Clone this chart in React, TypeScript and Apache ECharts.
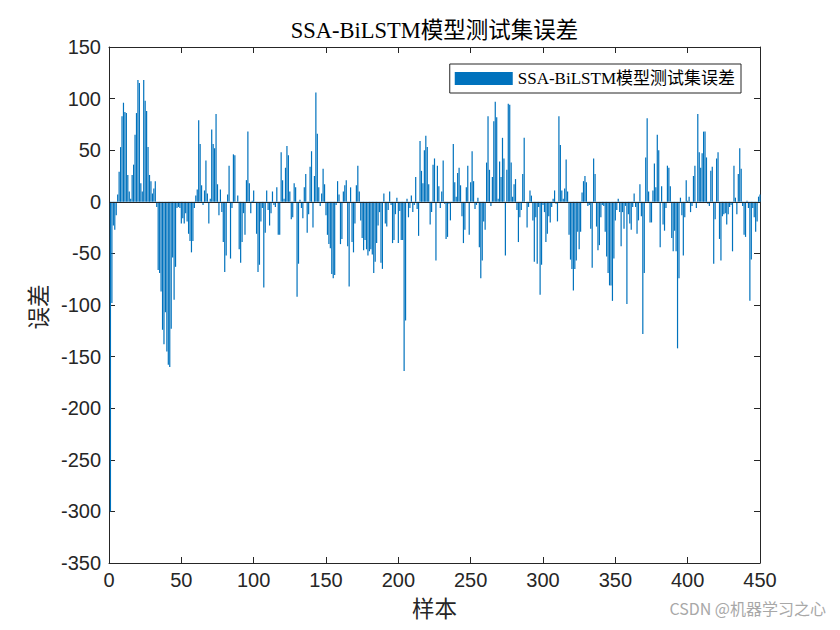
import React, { useEffect, useRef } from "react";
import * as echarts from "echarts";

// Error values, 50 samples per segment
const seg1 = [-300, -98, -23, -27, -13, 7, 29, 53, 83, 96, 87, 86, 26, 10, 3, 26, 36, 65, 86, 118, 115, 18, 10, 118, 98, 88, 53, 26, 20, 8, 13, 20, -5, -66, -69, -87, -124, -138, -107, -145, -158, -160, -123, -54, -95, -63, -6, -5, -6, -21];
const seg2 = [-16, -21, -11, -19, -31, -38, -49, -38, -6, 6, 12, 79, 56, 16, -3, 11, 40, 8, -21, 3, 70, 56, 52, 85, 17, -13, 12, -10, -39, -68, -52, 7, 35, -55, -6, 46, 45, -1, 6, -46, -59, -39, -11, -32, 21, 68, 18, -11, 1, 11];
const seg3 = [-1, -31, -68, -61, -19, -6, -83, -30, 11, -8, -23, -11, 10, -3, -5, 14, -32, -32, 48, 21, 3, 33, 54, 45, 10, -17, -15, 18, 14, -92, -60, 2, -6, -16, 14, 27, -30, -12, 34, 49, -25, 25, 106, 66, 14, -4, 8, 32, 17, -13];
const seg4 = [-32, -41, -45, -70, -74, -71, -3, 20, 7, -41, -36, 10, 16, 21, -43, -82, 14, -39, -49, -21, 16, 35, 10, -18, -35, -47, -37, -46, -52, -48, -46, -51, -69, -58, -40, -23, -10, -59, -65, 8, -21, -24, -8, 10, -3, -40, -37, -12, 4, -40];
const seg5 = [-9, -37, -37, -164, -115, 3, -15, -6, 6, -10, -3, 24, -7, -33, 59, 30, 18, 50, 64, 53, 17, -22, -10, 36, 42, -57, 35, 15, -6, 10, 40, -2, -36, -34, -2, -18, -1, 56, 19, 5, 28, 33, 16, -14, -40, -27, 14, 35, -32, 19];
const seg6 = [49, 20, -7, -3, 4, -44, -74, -57, -19, -27, 38, 83, 31, -4, 24, 78, 97, 82, 3, 39, 24, 62, 42, -52, 31, 95, 94, 38, 5, 17, 22, -8, -39, -15, -8, 27, 62, 0, -25, -5, 11, 6, -18, -58, -15, -60, -5, -90, -61, -3];
const seg7 = [-10, -39, -31, -14, -20, -5, 3, 11, -2, -19, 83, 55, 11, 3, 13, 41, 10, -32, -56, -65, -86, -65, -57, -29, -46, -29, 9, 20, 25, 19, -4, -3, -26, -64, 42, 27, -24, -47, -42, -15, -3, -4, -29, -53, -69, -81, -81, -96, -55, -18];
const seg8 = [-8, 3, -10, -43, -10, -26, -4, -99, -12, -21, -27, -5, 8, -5, -31, -18, 17, -14, -128, -69, 43, 81, 10, -20, -20, 11, 37, 14, 65, 50, -44, 15, -22, -28, -6, 35, 33, 15, -35, -48, -28, -48, -142, -74, 4, -13, -52, -15, 21, 1];
const seg9 = [5, -10, -4, 25, 35, -6, 85, 48, 33, 47, 68, 68, 43, -2, -4, 30, 34, -60, -17, 42, 48, -36, -57, -14, -12, -11, -22, -12, -5, -3, -48, 35, 4, -12, 27, 52, 32, -4, -32, -34, 1, -6, -96, -56, -6, -15, -29, -19, 5, 7];

const errors = [...seg1, ...seg2, ...seg3, ...seg4, ...seg5, ...seg6, ...seg7, ...seg8, ...seg9];
const samples = errors.map((_, i) => i + 1);

const seriesName = "SSA-BiLSTM模型测试集误差";
const titleText = "SSA-BiLSTM模型测试集误差";
const xName = "样本";
const yName = "误差";
const watermark = "CSDN @机器学习之心";

const xMin = 0, xMax = 450, xStep = 50;
const yMin = -350, yMax = 150, yStep = 50;

export default function App() {
  const ref = useRef<HTMLDivElement>(null);
  useEffect(() => {
    const chart = echarts.init(ref.current!, null, { renderer: "svg" });
    const axisColor = "#262626";
    const sans = "'Liberation Sans', Arial, Helvetica, sans-serif";
    const cjk = "'Liberation Serif', 'Noto Sans CJK SC', sans-serif";
    const tick = { show: true, inside: true, length: 6, lineStyle: { color: axisColor, width: 1 } };
    const line = { show: true, onZero: false, lineStyle: { color: axisColor, width: 1 } };
    const label = { color: axisColor, fontSize: 20, fontFamily: sans };
    chart.setOption({
      animation: false,
      backgroundColor: "#ffffff",
      grid: { left: 109, right: 80, top: 47, bottom: 67, containLabel: false },
      xAxis: [
        {
          type: "value", min: xMin, max: xMax, interval: xStep, position: "bottom",
          axisLine: line, axisTick: tick, axisLabel: { ...label, margin: 7 }, splitLine: { show: false },
        },
        {
          type: "value", min: xMin, max: xMax, interval: xStep, position: "top",
          axisLine: line, axisTick: tick, axisLabel: { show: false }, splitLine: { show: false },
        },
      ],
      yAxis: [
        {
          type: "value", min: yMin, max: yMax, interval: yStep, position: "left",
          axisLine: line, axisTick: tick, axisLabel: { ...label, margin: 8 }, splitLine: { show: false },
        },
        {
          type: "value", min: yMin, max: yMax, interval: yStep, position: "right",
          axisLine: line, axisTick: tick, axisLabel: { show: false }, splitLine: { show: false },
        },
      ],
      legend: {
        data: [{ name: seriesName, icon: "rect" }],
        right: 99, top: 64,
        itemWidth: 58, itemHeight: 13, itemGap: 6,
        padding: [6, 6, 6, 5],
        borderColor: axisColor, borderWidth: 1, backgroundColor: "#ffffff",
        textStyle: { fontFamily: cjk, fontSize: 17, color: "#000000" },
      },
      series: [
        {
          type: "bar", name: seriesName, xAxisIndex: 0, yAxisIndex: 0,
          data: samples.map((s, i) => [s, errors[i]]),
          barWidth: 1.2,
          itemStyle: { color: "#0072BD" },
          markLine: {
            silent: true, symbol: ["none", "none"], label: { show: false },
            lineStyle: { color: axisColor, width: 1, type: "solid" },
            data: [{ yAxis: 0 }],
          },
        },
      ],
      graphic: [
        {
          type: "text", x: 434.5, y: 30,
          style: { text: titleText, font: `22.5px ${cjk}`, fill: "#000000", align: "center", verticalAlign: "middle" },
        },
        {
          type: "text", x: 434.5, y: 609,
          style: { text: xName, font: `22.5px ${cjk}`, fill: axisColor, align: "center", verticalAlign: "middle" },
        },
        {
          type: "text", x: 39, y: 307, rotation: Math.PI / 2,
          style: { text: yName, font: `22.5px ${cjk}`, fill: axisColor, align: "center", verticalAlign: "middle" },
        },
        {
          type: "text", x: 826, y: 608,
          style: { text: watermark, font: `16px 'Noto Sans CJK SC', sans-serif`, fill: "#a8a8a8", align: "right", verticalAlign: "middle" },
        },
      ],
    });
    return () => chart.dispose();
  }, []);
  return <div ref={ref} style={{ position: "absolute", left: 0, top: 0, width: 840, height: 630 }} />;
}
